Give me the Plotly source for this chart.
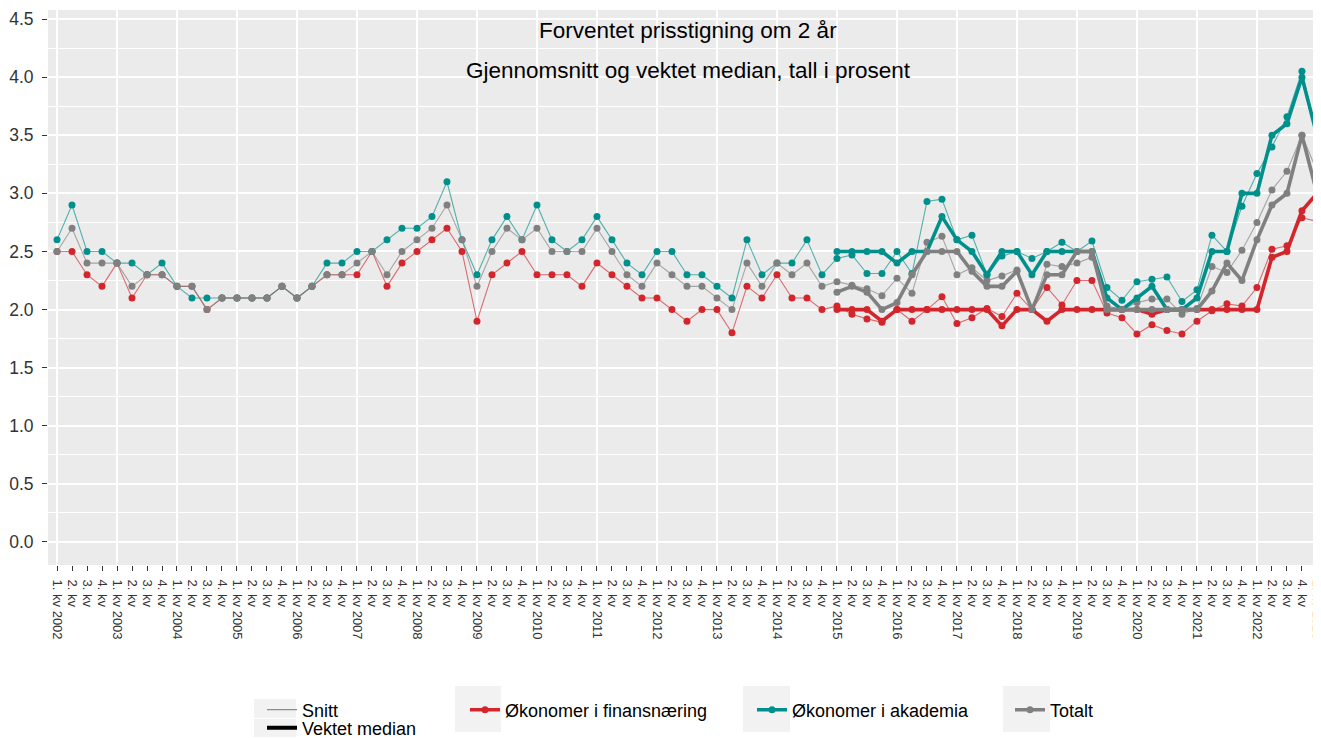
import plotly.graph_objects as go

# ---------------- data ----------------
years = list(range(2002, 2024))
quarter_names = ["1. kv", "2. kv", "3. kv", "4. kv"]
n_periods = 85  # 1. kv 2002 .. 1. kv 2023
periods = [(y, q) for y in years for q in quarter_names][:n_periods]
tick_labels = [f"{q} {y}" if q == "1. kv" else q for (y, q) in periods]
median_start_label = "1. kv 2015"

finans_snitt = [2.5, 2.5, 2.3, 2.2, 2.4, 2.1, 2.3, 2.3, 2.2, 2.2, 2.0, 2.1, 2.1, 2.1, 2.1, 2.2, 2.1, 2.2, 2.3, 2.3,
                2.3, 2.5, 2.2, 2.4, 2.5, 2.6, 2.7, 2.5, 1.9, 2.3, 2.4, 2.5, 2.3, 2.3, 2.3, 2.2, 2.4, 2.3, 2.2, 2.1,
                2.1, 2.0, 1.9, 2.0, 2.0, 1.8, 2.2, 2.1, 2.3, 2.1, 2.1, 2.0,
                2.03, 1.96, 1.92, 1.89, 2.0, 1.9, 2.0, 2.11, 1.88, 1.93, 2.01, 1.94, 2.14, 2.0, 2.19, 2.04, 2.25,
                2.25, 1.97, 1.93, 1.79, 1.87, 1.82, 1.79, 1.9, 1.99, 2.05, 2.03, 2.19, 2.52, 2.55, 2.79, 2.76]
akademia_snitt = [2.6, 2.9, 2.5, 2.5, 2.4, 2.4, 2.3, 2.4, 2.2, 2.1, 2.1, 2.1, 2.1, 2.1, 2.1, 2.2, 2.1, 2.2, 2.4, 2.4,
                  2.5, 2.5, 2.6, 2.7, 2.7, 2.8, 3.1, 2.6, 2.3, 2.6, 2.8, 2.6, 2.9, 2.6, 2.5, 2.6, 2.8, 2.6, 2.4, 2.3,
                  2.5, 2.5, 2.3, 2.3, 2.2, 2.1, 2.6, 2.3, 2.4, 2.4, 2.6, 2.3,
                  2.44, 2.47, 2.31, 2.31, 2.5, 2.31, 2.93, 2.95, 2.6, 2.64, 2.3, 2.46, 2.5, 2.44, 2.5, 2.58, 2.5,
                  2.59, 2.19, 2.08, 2.24, 2.26, 2.28, 2.07, 2.17, 2.64, 2.5, 2.89, 3.17, 3.4, 3.66, 4.05, 3.5]
totalt_snitt = [2.5, 2.7, 2.4, 2.4, 2.4, 2.2, 2.3, 2.3, 2.2, 2.2, 2.0, 2.1, 2.1, 2.1, 2.1, 2.2, 2.1, 2.2, 2.3, 2.3,
                2.4, 2.5, 2.3, 2.5, 2.6, 2.7, 2.9, 2.6, 2.2, 2.5, 2.7, 2.6, 2.7, 2.5, 2.5, 2.5, 2.7, 2.5, 2.3, 2.2,
                2.4, 2.3, 2.2, 2.2, 2.1, 2.0, 2.4, 2.2, 2.4, 2.3, 2.4, 2.2,
                2.24, 2.21, 2.18, 2.12, 2.27, 2.14, 2.58, 2.63, 2.3, 2.36, 2.25, 2.29, 2.34, 2.0, 2.39, 2.37, 2.4,
                2.45, 2.03, 2.0, 2.06, 2.09, 2.09, 1.96, 2.01, 2.37, 2.32, 2.51, 2.75, 3.03, 3.19, 3.5, 3.19]

finans_median = [2.0, 2.0, 2.0, 1.9, 2.0, 2.0, 2.0, 2.0, 2.0, 2.0, 2.0, 1.86, 2.0, 2.0, 1.9, 2.0, 2.0, 2.0, 2.0,
                 2.0, 2.0, 1.96, 2.0, 2.0, 2.0, 2.0, 2.0, 2.0, 2.0, 2.45, 2.5, 2.85, 3.0]
akademia_median = [2.5, 2.5, 2.5, 2.5, 2.4, 2.5, 2.5, 2.8, 2.6, 2.5, 2.3, 2.5, 2.5, 2.3, 2.5, 2.5, 2.5, 2.5, 2.1,
                   2.0, 2.1, 2.2, 2.0, 2.0, 2.1, 2.5, 2.5, 3.0, 3.0, 3.5, 3.6, 4.0, 3.5]
totalt_median = [2.15, 2.2, 2.15, 2.0, 2.06, 2.3, 2.5, 2.5, 2.5, 2.33, 2.2, 2.2, 2.33, 2.0, 2.3, 2.3, 2.5, 2.5, 2.0,
                 2.0, 2.0, 2.0, 2.0, 2.0, 2.0, 2.16, 2.4, 2.25, 2.6, 2.9, 3.0, 3.5, 3.0]

series_names = ["Økonomer i finansnæring", "Økonomer i akademia", "Totalt"]
series_colors = ["#D2262C", "#00908C", "#808080"]
series_thin = ["rgba(210,38,44,0.65)", "rgba(0,144,140,0.65)", "rgba(128,128,128,0.65)"]

# ---------------- figure ----------------
FONT = "Liberation Sans, Arial, sans-serif"
OFF = 8                       # page body margin
W, H = 1313, 730
ML, MR, MT, MB = 40, 0, 2, 173
PW, PH = W - ML - MR, H - MT - MB
PLOT_BOTTOM = H - MB

x_all = list(range(len(tick_labels)))
m0 = tick_labels.index(median_start_label)
x_med = x_all[m0:]


def px_x(p):
    """screen pixel -> paper x"""
    return (p - OFF - ML) / PW


def px_y(p):
    """screen pixel -> paper y"""
    return (PLOT_BOTTOM - (p - OFF)) / PH


fig = go.Figure()

snitt_data = [finans_snitt, akademia_snitt, totalt_snitt]
median_data = [finans_median, akademia_median, totalt_median]

for name, col, thin, ys in zip(series_names, series_colors, series_thin, snitt_data):
    fig.add_trace(go.Scatter(x=x_all, y=ys, mode="lines+markers", showlegend=False,
                             line=dict(color=thin, width=1.1), marker=dict(color=col, size=7),
                             hoverinfo="skip"))

for k, (name, col, ys) in enumerate(zip(series_names, series_colors, median_data)):
    fig.add_trace(go.Scatter(x=x_med, y=ys, mode="lines+markers", name=name,
                             legend=f"legend{k + 2}",
                             line=dict(color=col, width=3.6), marker=dict(color=col, size=7)))

# linetype legend (no data)
fig.add_trace(go.Scatter(x=[None], y=[None], mode="lines", name="Snitt", legend="legend",
                         xaxis="x2", line=dict(color="#8C8C8C", width=1.2)))
fig.add_trace(go.Scatter(x=[None], y=[None], mode="lines", name="Vektet median", legend="legend5",
                         line=dict(color="#000000", width=4)))

legend_font = dict(family=FONT, size=18, color="#000000")
shapes = []
for (x0, x1, y0, y1) in [(254, 296, 699, 718), (254, 296, 719, 737),
                         (455, 501, 686, 732), (743, 790, 686, 732), (1003, 1050, 686, 732)]:
    shapes.append(dict(type="rect", xref="paper", yref="paper", x0=px_x(x0), x1=px_x(x1),
                       y0=px_y(y1), y1=px_y(y0), fillcolor="#F2F2F2", line=dict(width=0),
                       layer="below"))


def leg(text_x, cy):
    return dict(x=px_x(text_x - 40), y=px_y(cy), xanchor="left", yanchor="middle",
                bgcolor="rgba(0,0,0,0)", font=legend_font)


fig.update_layout(
    width=W, height=H,
    margin=dict(l=ML, r=MR, t=MT, b=MB, autoexpand=False),
    paper_bgcolor="white", plot_bgcolor="#EBEBEB",
    font=dict(family=FONT, color="#333333"),
    xaxis=dict(range=[-0.6, 84.27], tickmode="array", tickvals=x_all, ticktext=tick_labels,
               tickangle=90, ticks="outside", ticklen=5, tickwidth=1.3, tickcolor="#333333",
               tickfont=dict(family=FONT, size=13, color="#333333"),
               ticklabelstandoff=6, ticklabeloverflow="allow",
               showgrid=False, zeroline=False, showline=False, automargin=False),
    xaxis2=dict(overlaying="x", matches="x", anchor="y", side="bottom",
                tickmode="array", tickvals=x_all[::4], showticklabels=False, ticks="",
                showgrid=True, gridcolor="white", gridwidth=2, zeroline=False, showline=False),
    yaxis=dict(range=[-0.198, 4.578], tick0=0, dtick=0.5, tickformat=".1f",
               ticks="outside", ticklen=5, tickwidth=1.3, tickcolor="#333333",
               tickfont=dict(family=FONT, size=17.5, color="#333333"),
               ticklabelstandoff=5,
               showgrid=True, gridcolor="white", gridwidth=2, zeroline=False, automargin=False,
               minor=dict(tick0=0, dtick=0.25, showgrid=True, gridcolor="white", gridwidth=1,
                          ticks="")),
    legend=leg(302, 710),
    legend5=leg(302, 728),
    legend2=leg(505, 710),
    legend3=leg(792, 710),
    legend4=leg(1050, 710),
    shapes=shapes,
    annotations=[
        dict(text="Forventet prisstigning om 2 år", xref="paper", yref="paper",
             x=px_x(688), y=px_y(31), xanchor="center", yanchor="middle", showarrow=False,
             font=dict(family=FONT, size=22.5, color="#000000")),
        dict(text="Gjennomsnitt og vektet median, tall i prosent", xref="paper", yref="paper",
             x=px_x(688), y=px_y(70), xanchor="center", yanchor="middle", showarrow=False,
             font=dict(family=FONT, size=22.5, color="#000000")),
    ],
)

fig.write_html("out.html")
